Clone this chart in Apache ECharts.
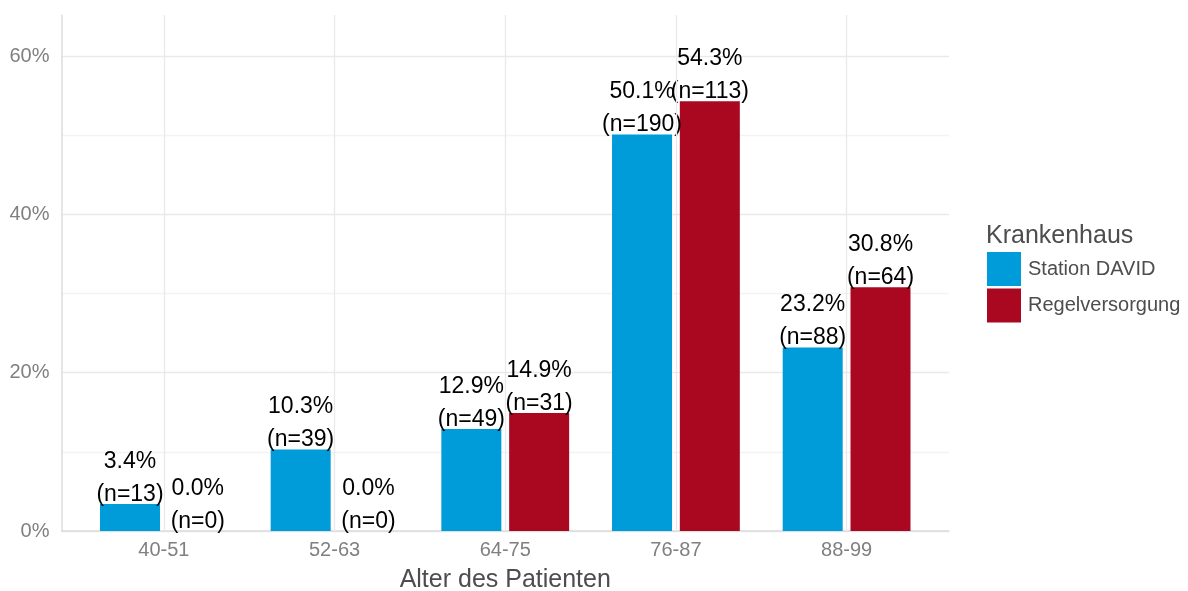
<!DOCTYPE html>
<html>
<head>
<meta charset="utf-8">
<script src="https://cdn.jsdelivr.net/npm/echarts@6/dist/echarts.min.js"></script>
<style>
  html, body { margin: 0; padding: 0; background: #fff; }
  #main { width: 1188px; height: 591px; }
</style>
</head>
<body>
<div id="main"></div>
<script>
// data
var categories = ['40-51', '52-63', '64-75', '76-87', '88-99'];
var seriesNames = ['Station DAVID', 'Regelversorgung'];
var davidPct = [3.4, 10.3, 12.9, 50.1, 23.2];
var davidN = [13, 39, 49, 190, 88];
var regelPct = [0.0, 0.0, 14.9, 54.3, 30.8];
var regelN = [0, 0, 31, 113, 64];
var yTicks = [0, 20, 40, 60];

var chartDom = document.getElementById('main');
var myChart = echarts.init(chartDom);
var option;

var FONT = 'Liberation Sans, Arial, sans-serif';
var yMax = 65.2;

// panel 61.5..949, ggplot pads discrete axis by 0.6 of a category
var panelLeft = 61.5, panelRight = 949;
var unit = (panelRight - panelLeft) / (categories.length + 0.2);
var pad = 0.1 * unit;

function labelFor(nArr) {
    return function (p) {
        return p.value.toFixed(1) + '%\n(n=' + nArr[p.dataIndex] + ')';
    };
}

var barLabel = {
    show: true,
    position: 'top',
    distance: -7,
    fontFamily: FONT,
    fontSize: 23,
    lineHeight: 33,
    color: '#000'
};

option = {
    animation: false,
    backgroundColor: '#fff',
    grid: [
        // background grid: gridlines + axis lines
        { left: panelLeft, right: 1188 - panelRight, top: 15, bottom: 60 },
        // bar grid
        { left: panelLeft + pad, right: 1188 - panelRight + pad, top: 15, bottom: 60 }
    ],
    xAxis: [
        {
            gridIndex: 0,
            type: 'value',
            min: -0.6,
            max: categories.length - 1 + 0.6,
            axisLine: { show: true, onZero: false, lineStyle: { color: '#dcdcdc', width: 1.5 } },
            axisTick: { show: false },
            axisLabel: { show: false },
            splitLine: { show: false }
        },
        {
            gridIndex: 1,
            type: 'category',
            data: categories,
            axisLine: { show: false },
            axisTick: { show: false },
            axisLabel: {
                margin: 9,
                fontFamily: FONT,
                fontSize: 20,
                color: '#808080'
            },
            splitLine: { show: false }
        }
    ],
    yAxis: [
        {
            gridIndex: 0,
            type: 'value',
            min: 0,
            max: yMax,
            interval: 10,
            axisLine: { show: true, onZero: false, lineStyle: { color: '#dcdcdc', width: 1.5 } },
            axisTick: { show: false },
            axisLabel: {
                margin: 12,
                fontFamily: FONT,
                fontSize: 20,
                color: '#808080',
                formatter: function (v) {
                    return yTicks.indexOf(v) >= 0 ? v + '%' : '';
                }
            },
            splitLine: {
                show: true,
                showMaxLine: false,
                lineStyle: { color: ['#e9e9e9', '#f3f3f3'], width: 1.3 }
            }
        },
        {
            gridIndex: 1,
            type: 'value',
            min: 0,
            max: yMax,
            show: false,
            splitLine: { show: false }
        }
    ],
    legend: {
        orient: 'vertical',
        left: 987,
        top: 252,
        padding: 0,
        icon: 'rect',
        itemWidth: 34,
        itemHeight: 34,
        itemGap: 2.5,
        data: seriesNames,
        textStyle: {
            fontFamily: FONT,
            fontSize: 20,
            color: '#4d4d4d',
            padding: [0, 0, 0, 2]
        }
    },
    graphic: [
        {
            type: 'text',
            left: 986,
            top: 224,
            style: { text: 'Krankenhaus', fontFamily: FONT, fontSize: 25, fill: '#4d4d4d' }
        },
        {
            type: 'text',
            x: (panelLeft + panelRight) / 2,
            y: 580,
            style: {
                text: 'Alter des Patienten',
                fontFamily: FONT,
                fontSize: 25,
                fill: '#4d4d4d',
                align: 'center',
                verticalAlign: 'middle'
            }
        }
    ],
    series: [
        {
            // vertical gridlines at category centres
            type: 'line',
            xAxisIndex: 0,
            yAxisIndex: 0,
            data: [],
            z: 0,
            silent: true,
            markLine: {
                silent: true,
                symbol: 'none',
                label: { show: false },
                lineStyle: { color: '#e9e9e9', width: 1.3, type: 'solid' },
                data: categories.map(function (c, i) { return { xAxis: i }; })
            }
        },
        {
            name: seriesNames[0],
            type: 'bar',
            xAxisIndex: 1,
            yAxisIndex: 1,
            barWidth: 60,
            barGap: '13%',
            itemStyle: { color: '#009CD9' },
            label: Object.assign({}, barLabel, { formatter: labelFor(davidN) }),
            data: davidPct
        },
        {
            name: seriesNames[1],
            type: 'bar',
            xAxisIndex: 1,
            yAxisIndex: 1,
            barWidth: 60,
            barGap: '13%',
            itemStyle: { color: '#A90820' },
            label: Object.assign({}, barLabel, { formatter: labelFor(regelN) }),
            data: regelPct
        }
    ]
};

option && myChart.setOption(option);
</script>
</body>
</html>
